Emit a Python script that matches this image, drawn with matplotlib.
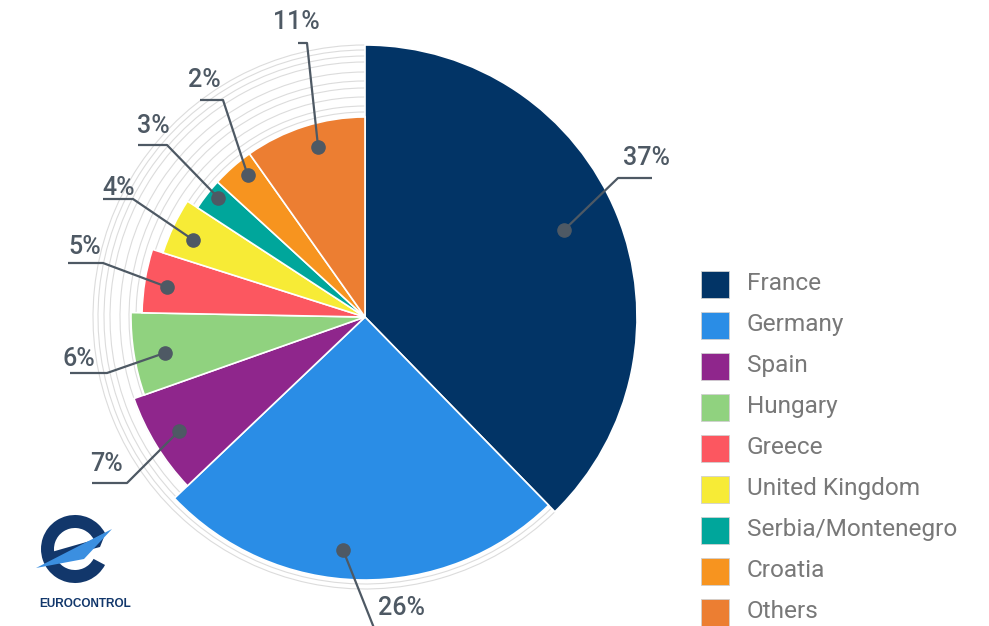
import matplotlib.pyplot as plt
import numpy as np
from matplotlib.patches import Wedge, Arc, Rectangle, Polygon

# data
countries = ['France', 'Germany', 'Spain', 'Hungary', 'Greece',
             'United Kingdom', 'Serbia/Montenegro', 'Croatia', 'Others']
shares = [37.7, 25.2, 6.7, 5.7, 4.6, 4.3, 2.6, 3.4, 9.8]   # slice sizes as drawn
pct_text = ['37%', '26%', '7%', '6%', '5%', '4%', '3%', '2%', '11%']

# style
colors = ['#023466', '#2a8de6', '#8f268c', '#90d27f', '#fc5760',
          '#f7eb36', '#00a69b', '#f7941f', '#ec7e32']
radii = [272, 263, 245, 234, 223, 212, 200, 200, 200]
dot_frac = [0.80, 0.89, 0.89, 0.87, 0.90, 0.89, 0.945, 0.92, 0.88]
dot_turn = [1.5, -4.3, 0, 1, 0.7, 1.2, -1.3, -1.8, -2.2]   # degrees off the mid angle
# label layout in pixels from top-left: elbow x, elbow y, end x, text x, text y
label_layout = [(618, 178, 652, 623, 158),
                (374, 628, 396, 378, 608),
                (127, 483, 92, 90, 464),
                (107, 373, 70, 62, 359),
                (103, 263, 68, 68, 247),
                (133, 199, 103, 102, 188),
                (167, 145, 138, 137, 126),
                (223, 100, 200, 188, 80),
                (307, 43, 298, 273, 22)]

W, H = 989, 626
def Y(y):
    return H - y

plt.rcParams['font.family'] = ['Roboto', 'DejaVu Sans']
fig = plt.figure(figsize=(W / 100, H / 100), dpi=100)
ax = fig.add_axes([0, 0, 1, 1])
ax.set_xlim(0, W)
ax.set_ylim(0, H)
ax.axis('off')

cx, cy = 365, Y(317)
spans = 360 * np.array(shares) / sum(shares)

# faint rings behind the smaller slices
france_end = 90 - spans[0]
for r in [205, 211, 220, 229, 236, 245, 255, 261, 267, 272]:
    ax.add_patch(Arc((cx, cy), 2 * r, 2 * r, theta1=90, theta2=360 + france_end,
                     color='#dcdcdc', lw=0.8, zorder=1))

lab_col = '#4e5964'
start = 90
for i in range(len(countries)):
    t2 = start
    t1 = start - spans[i]
    ax.add_patch(Wedge((cx, cy), radii[i], t1, t2, facecolor=colors[i],
                       edgecolor='white', lw=1.2, zorder=2))
    mid = np.radians((t1 + t2) / 2 + dot_turn[i])
    dx = cx + dot_frac[i] * radii[i] * np.cos(mid)
    dy = cy + dot_frac[i] * radii[i] * np.sin(mid)
    ex, ey, endx, tx, ty = label_layout[i]
    ax.plot([dx, ex, endx], [dy, Y(ey), Y(ey)], color=lab_col, lw=1.6, zorder=3,
            solid_capstyle='butt')
    ax.plot(dx, dy, 'o', color=lab_col, ms=9.5, zorder=4)
    ax.text(tx, Y(ty), pct_text[i], ha='left', va='center', fontsize=18,
            fontweight='medium', color=lab_col, zorder=5)
    start = t1

# legend
for i, name in enumerate(countries):
    yc = 284.5 + 40.95 * i
    ax.add_patch(Rectangle((701, Y(yc) - 13.5), 28, 27, facecolor=colors[i],
                           edgecolor='#d0d0d0', lw=0.6))
    ax.text(747, Y(yc) + 1, name, ha='left', va='center', fontsize=17.6, color='#787878')

# rough EUROCONTROL logo
navy = '#12376b'
ax.add_patch(Wedge((75, Y(549)), 34, 28, 332, width=13, facecolor=navy, edgecolor='none'))
ax.add_patch(Polygon([(48, Y(553)), (104, Y(537)), (100, Y(547)), (50, Y(560))],
                     closed=True, facecolor=navy, edgecolor='none'))
ax.add_patch(Polygon([(36, Y(568)), (112, Y(529)), (84, Y(559))],
                     closed=True, facecolor='#3b8fe0', edgecolor='none'))
ax.text(85, Y(604), 'EUROCONTROL', ha='center', va='center', fontsize=8.5,
        fontweight='bold', color=navy, family=['Liberation Sans', 'DejaVu Sans'])

fig.savefig('out.png', dpi=100)
